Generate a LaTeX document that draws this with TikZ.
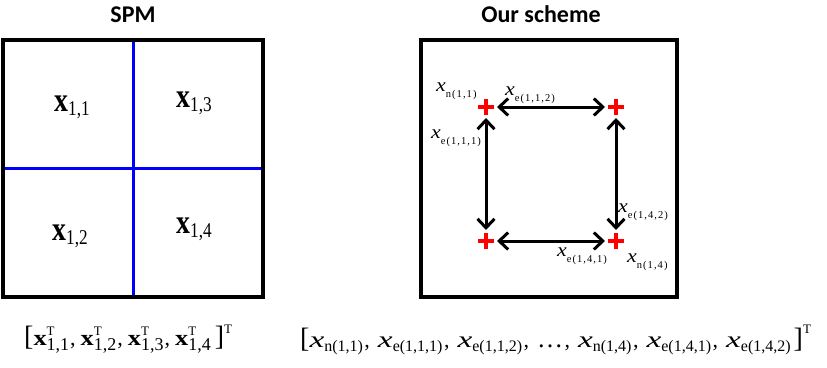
\documentclass[tikz,border=0pt]{standalone}
\usepackage{fontspec}
\setmainfont{Liberation Serif}
\newfontfamily\titlefont{Carlito}
\usetikzlibrary{arrows.meta}
\newcommand\fs[1]{\fontsize{#1}{#1}\selectfont}
% labels inside the SPM box
\newcommand\bxl[1]{\scalebox{0.82}[1]{{\fs{34}\textbf{x}}\raisebox{-0.45em}{\fs{21}#1}}}
% labels in the scheme box
\newcommand\ixl[1]{\scalebox{1.15}[1]{\fs{19}\textit{x}}\raisebox{-0.6em}{\fs{10.5}\addfontfeature{LetterSpace=10}#1}}
% bottom formulas
\newcommand\bxT[1]{\scalebox{1.2}[1]{\fs{22}\textbf{x}}\rlap{\raisebox{1em}{\fs{13}T}}\raisebox{-0.5em}{\fs{18}#1}}
\newcommand\ixT[1]{\scalebox{1.45}[1]{\fs{23}\textit{x}}\raisebox{-0.45em}{\fs{16}#1}}
\newcommand\cml{\hspace{1pt}{\fs{22},}\hspace{5pt}}
\newcommand\cm{\hspace{1.5pt}{\fs{22},}\hspace{8pt}}
\begin{document}
\begin{tikzpicture}[x=1pt,y=-1pt,
  frame/.style={draw=black,line width=3.3pt},
  grid/.style={draw=blue,line width=3pt},
  link/.style={line width=3pt,{Straight Barb[length=9pt,width=17pt]}-{Straight Barb[length=9pt,width=17pt]},shorten <=11pt,shorten >=11pt},
  cross/.style={red,line width=4pt},
  title/.style={font=\titlefont\bfseries\fs{24}},
  lab/.style={inner sep=0pt,anchor=base west}]
\useasboundingbox (0,0) rectangle (827,367);
% SPM
\node[title,anchor=base] (t1) at (133,22) {SPM};
\draw[grid] (133,40) -- (133,297);
\draw[grid] (4,168) -- (263,168);
\draw[frame] (3,40) rectangle (263,297);
\node[lab] (x11) at (54,111) {\bxl{1,1}};
\node[lab] (x13) at (176,107) {\bxl{1,3}};
\node[lab] (x12) at (52,240) {\bxl{1,2}};
\node[lab] (x14) at (176,233) {\bxl{1,4}};
% Our scheme
\node[title,anchor=base] (t2) at (541,22) {Our scheme};
\draw[frame] (421,40) rectangle (677,297);
\coordinate (c11) at (486,107);
\coordinate (c12) at (616,107);
\coordinate (c21) at (486,241);
\coordinate (c22) at (616,241);
\draw[link] (c11) -- (c12);
\draw[link] (c21) -- (c22);
\draw[link] (c11) -- (c21);
\draw[link] (c12) -- (c22);
\foreach \c in {c11,c12,c21,c22}{
  \draw[cross] ([xshift=-8pt]\c) -- ([xshift=8pt]\c);
  \draw[cross] ([yshift=-8pt]\c) -- ([yshift=8pt]\c);
}
\node[lab] (ln11) at (436,91) {\ixl{n(1,1)}};
\node[lab] (le112) at (505,95) {\ixl{e(1,1,2)}};
\node[lab] (le111) at (431,138) {\ixl{e(1,1,1)}};
\node[lab] (le142) at (618,212) {\ixl{e(1,4,2)}};
\node[lab] (le141) at (557,256) {\ixl{e(1,4,1)}};
\node[lab] (ln14) at (627,262) {\ixl{n(1,4)}};
% bottom formulas
\node[lab] (f1) at (24,345) {{\fs{28}[}\bxT{1,1}\cml\bxT{1,2}\cml\bxT{1,3}\cml\bxT{1,4}\hspace{4pt}{\fs{28}]}\raisebox{1.15em}{\fs{13}T}};
\node[lab] (f2) at (300,347) {{\fs{28}[}\ixT{n(1,1)}\cm\ixT{e(1,1,1)}\cm\ixT{e(1,1,2)}\cm{\fs{26}…}\cm\ixT{n(1,4)}\cm\ixT{e(1,4,1)}\cm\ixT{e(1,4,2)}\hspace{3pt}{\fs{28}]}\raisebox{1.4em}{\fs{13}T}};
\end{tikzpicture}
\end{document}
